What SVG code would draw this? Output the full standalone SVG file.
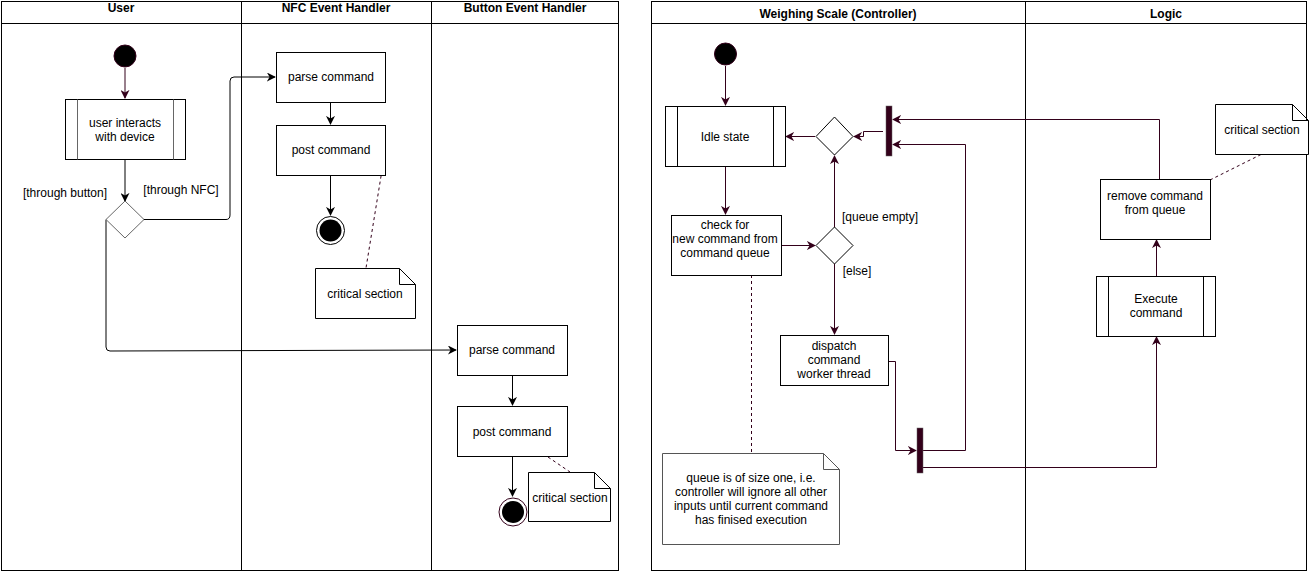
<svg xmlns="http://www.w3.org/2000/svg" width="1309" height="573" viewBox="0 0 1309 573">
<style>
text{font-family:"Liberation Sans",Arial,sans-serif;font-size:12px;fill:#000;text-anchor:middle;dominant-baseline:central}
.h{font-weight:bold}
.pool{fill:#fff;stroke:#000;stroke-width:1}
.box{fill:#fff;stroke:#000;stroke-width:1}
.dia{fill:#fff;stroke:#666;stroke-width:1}
.diam{fill:#fff;stroke:#000;stroke-width:1}
.e{fill:none;stroke:#000;stroke-width:1}
.em{fill:none;stroke:#33001A;stroke-width:1}
.d{fill:none;stroke:#33001A;stroke-width:1;stroke-dasharray:3 3}
.bar{fill:#33001A;stroke:#666;stroke-width:0.5}
</style>
<defs>
<marker id="a" viewBox="0 0 10 10" refX="9" refY="5" markerWidth="9" markerHeight="9" markerUnits="userSpaceOnUse" orient="auto"><path d="M0,0 L10,5 L0,10 L3,5 Z" fill="#000"/></marker>
<marker id="am" viewBox="0 0 10 10" refX="9" refY="5" markerWidth="9" markerHeight="9" markerUnits="userSpaceOnUse" orient="auto"><path d="M0,0 L10,5 L0,10 L3,5 Z" fill="#33001A"/></marker>
</defs>
<rect width="1309" height="573" fill="#fff"/>
<g id="pool-left">
<rect class="pool" x="1.5" y="1.5" width="617" height="569"/>
<line class="e" x1="1.5" y1="23.5" x2="618.5" y2="23.5"/>
<line class="e" x1="241.5" y1="1.5" x2="241.5" y2="570.5"/>
<line class="e" x1="431.5" y1="1.5" x2="431.5" y2="570.5"/>
<text class="h" x="121" y="8">User</text>
<text class="h" x="336" y="8">NFC Event Handler</text>
<text class="h" x="525" y="8">Button Event Handler</text>
</g>
<g id="pool-right">
<rect class="pool" x="651.5" y="1.5" width="655" height="569"/>
<line class="e" x1="651.5" y1="23.5" x2="1306.5" y2="23.5"/>
<line class="e" x1="1025.5" y1="1.5" x2="1025.5" y2="570.5"/>
<text class="h" x="838" y="14">Weighing Scale (Controller)</text>
<text class="h" x="1166" y="14">Logic</text>
</g>
<g id="connectors">
<line class="em" x1="125" y1="68" x2="125" y2="98" marker-end="url(#am)"/>
<line class="e" x1="125" y1="159" x2="125" y2="201" marker-end="url(#a)"/>
<path class="e" d="M144,219.5 H226 Q230,219.5 230,215 V81 Q230,77 234,77 H275" marker-end="url(#a)"/>
<path class="e" d="M106,219.5 V347 Q106,351 110,351 L456,350" marker-end="url(#a)"/>
<line class="e" x1="330.5" y1="102" x2="330.5" y2="124" marker-end="url(#a)"/>
<line class="e" x1="330.5" y1="175" x2="330.5" y2="215" marker-end="url(#a)"/>
<line class="d" x1="385" y1="152" x2="366" y2="268"/>
<line class="e" x1="512.5" y1="375" x2="512.5" y2="405" marker-end="url(#a)"/>
<line class="e" x1="512.5" y1="456" x2="512.5" y2="496" marker-end="url(#a)"/>
<line class="d" x1="548" y1="457" x2="570" y2="472"/>
<line class="em" x1="725.5" y1="66" x2="725.5" y2="105" marker-end="url(#am)"/>
<line class="em" x1="815" y1="136.5" x2="786" y2="136.5" marker-end="url(#am)"/>
<path class="em" d="M883,131.5 H863.5 V136.5 H854" marker-end="url(#am)"/>
<path class="em" d="M1159.5,179 V119.5 H893" marker-end="url(#am)"/>
<path class="em" d="M923,450.5 H965.5 V144.5 H893" marker-end="url(#am)"/>
<line class="em" x1="725.5" y1="166" x2="725.5" y2="214" marker-end="url(#am)"/>
<line class="em" x1="781" y1="245.5" x2="815" y2="245.5" marker-end="url(#am)"/>
<line class="em" x1="834.5" y1="227" x2="834.5" y2="156" marker-end="url(#am)"/>
<line class="em" x1="834.5" y1="264" x2="834.5" y2="334" marker-end="url(#am)"/>
<path class="em" d="M888,361.5 H895.5 V450.5 H916" marker-end="url(#am)"/>
<path class="em" d="M923,467.5 H1156.5 V337" marker-end="url(#am)"/>
<line class="em" x1="1156.5" y1="276" x2="1156.5" y2="240" marker-end="url(#am)"/>
<line class="d" x1="751.5" y1="275" x2="751.5" y2="453"/>
<line class="d" x1="1210" y1="180" x2="1262" y2="154"/>
<text x="65" y="193">[through button]</text>
<text x="181" y="190">[through NFC]</text>
<text x="880" y="217">[queue empty]</text>
<text x="857" y="271">[else]</text>
</g>
<g id="start-user"><circle cx="125" cy="56" r="11" fill="#000" stroke="#33001A"/></g>
<g id="user-interacts">
<rect class="box" x="65.5" y="99.5" width="120" height="60"/>
<line x1="77.5" y1="99.5" x2="77.5" y2="159.5" stroke="#666"/>
<line x1="173.5" y1="99.5" x2="173.5" y2="159.5" stroke="#666"/>
<text x="125" y="123">user interacts</text>
<text x="125" y="137">with device</text>
</g>
<g id="decision-user"><path class="dia" d="M125,201 L144,219.5 L125,238 L106,219.5 Z"/></g>
<g id="nfc-parse"><rect class="box" x="276.5" y="52.5" width="109" height="50"/><text x="331" y="77">parse command</text></g>
<g id="nfc-post"><rect class="box" x="276.5" y="125.5" width="109" height="50"/><text x="331" y="150">post command</text></g>
<g id="nfc-end"><circle cx="330.5" cy="230.5" r="14" fill="#fff" stroke="#000"/><circle cx="330.5" cy="230.5" r="11" fill="#000"/></g>
<g id="nfc-note"><path class="box" d="M315.5,268.5 H399.5 L415.5,284.5 V318.5 H315.5 Z M399.5,268.5 V284.5 H415.5"/><text x="365" y="294">critical section</text></g>
<g id="btn-parse"><rect class="box" x="457.5" y="325.5" width="110" height="50" stroke="#333"/><text x="512" y="350">parse command</text></g>
<g id="btn-post"><rect class="box" x="457.5" y="406.5" width="110" height="50" stroke="#333"/><text x="512" y="432">post command</text></g>
<g id="btn-end"><circle cx="513" cy="512" r="14" fill="#fff" stroke="#33001A"/><circle cx="513" cy="512" r="11" fill="#000"/></g>
<g id="btn-note"><path class="box" d="M528.5,472.5 H594.5 L610.5,488.5 V521.5 H528.5 Z M594.5,472.5 V488.5 H610.5"/><text x="570" y="498">critical section</text></g>
<g id="start-ctrl"><circle cx="725.5" cy="54" r="11" fill="#000" stroke="#33001A"/></g>
<g id="idle">
<rect class="box" x="665.5" y="106.5" width="120" height="60"/>
<line class="e" x1="677.5" y1="106.5" x2="677.5" y2="166.5"/>
<line class="e" x1="773.5" y1="106.5" x2="773.5" y2="166.5"/>
<text x="725" y="137">Idle state</text>
</g>
<g id="merge"><path class="diam" d="M834.5,117 L853,136.5 L834.5,155 L816,136.5 Z"/></g>
<g id="join-top"><rect class="bar" x="886" y="106" width="6" height="50"/></g>
<g id="check">
<rect class="box" x="671.5" y="215.5" width="110" height="60"/>
<text x="725" y="225">check for</text>
<text x="725" y="239">new command from</text>
<text x="725" y="253">command queue</text>
</g>
<g id="decision-queue"><path class="diam" d="M834.5,227 L853,245.5 L834.5,264 L816,245.5 Z"/></g>
<g id="dispatch">
<rect class="box" x="780.5" y="335.5" width="108" height="50"/>
<text x="834" y="346">dispatch</text>
<text x="834" y="360">command</text>
<text x="834" y="374">worker thread</text>
</g>
<g id="fork-bottom"><rect class="bar" x="917" y="428" width="6" height="45"/></g>
<g id="queue-note">
<path d="M662.5,453.5 H823.5 L839.5,469.5 V544.5 H662.5 Z M823.5,453.5 V469.5 H839.5" fill="#fff" stroke="#555"/>
<text x="751" y="478">queue is of size one, i.e.</text>
<text x="751" y="492">controller will ignore all other</text>
<text x="751" y="506">inputs until current command</text>
<text x="751" y="520">has finised execution</text>
</g>
<g id="execute">
<rect class="box" x="1096.5" y="276.5" width="119" height="60"/>
<line class="e" x1="1108.5" y1="276.5" x2="1108.5" y2="336.5"/>
<line class="e" x1="1203.5" y1="276.5" x2="1203.5" y2="336.5"/>
<text x="1156" y="299">Execute</text>
<text x="1156" y="313">command</text>
</g>
<g id="remove">
<rect class="box" x="1100.5" y="179.5" width="110" height="60"/>
<text x="1155" y="196">remove command</text>
<text x="1155" y="210">from queue</text>
</g>
<g id="logic-note"><path class="box" d="M1215.5,104.5 H1292.5 L1308.5,120.5 V154.5 H1215.5 Z M1292.5,104.5 V120.5 H1308.5"/><text x="1262" y="130">critical section</text></g>
</svg>
